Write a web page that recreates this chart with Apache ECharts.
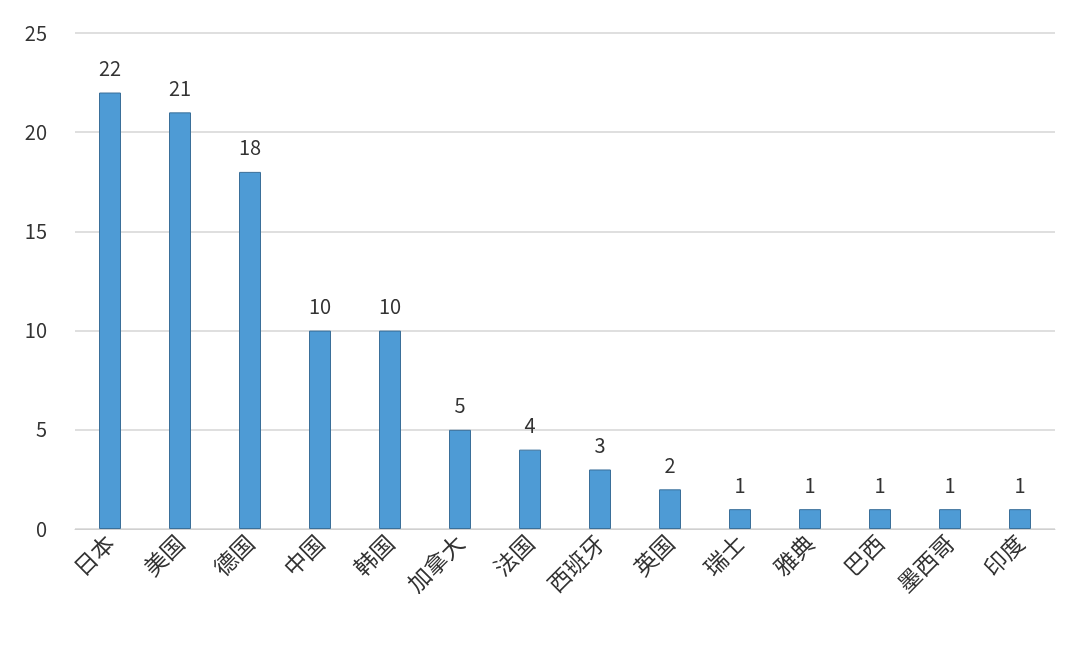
<!DOCTYPE html>
<html><head><meta charset="utf-8">
<script src="https://cdn.jsdelivr.net/npm/echarts@6/dist/echarts.min.js"></script>
<style>html,body{margin:0;padding:0;background:#fff}#c{width:1080px;height:650px}</style>
</head><body><div id="c"></div>
<script>
const categories = ["日本","美国","德国","中国","韩国","加拿大","法国","西班牙","英国","瑞士","雅典","巴西","墨西哥","印度"];
const values = [22,21,18,10,10,5,4,3,2,1,1,1,1,1];
const yTicks = [0,5,10,15,20,25];
const chart = echarts.init(document.getElementById('c'));
const font = '"Noto Sans CJK SC","Noto Sans",sans-serif';
chart.setOption({
  animation:false,
  grid:{left:75,right:25,top:33,bottom:121},
  xAxis:{type:'category',data:categories,
    axisLine:{lineStyle:{color:'#d0d0d0'}},axisTick:{show:false},
    axisLabel:{rotate:45,color:'#333',fontSize:23,fontFamily:font,interval:0,margin:10}},
  yAxis:{type:'value',min:yTicks[0],max:yTicks[yTicks.length-1],interval:5,
    axisLine:{show:false},axisTick:{show:false},
    splitLine:{lineStyle:{color:'#d4d4d4',width:1.5}},
    axisLabel:{color:'#333',fontSize:20,fontFamily:font,margin:28}},
  series:[{type:'bar',data:values,barWidth:22,
    itemStyle:{color:'#4e9bd5',borderColor:'#3a6f99',borderWidth:1},
    label:{show:true,position:'top',distance:14,color:'#333',fontSize:20,fontFamily:font}}]
});
</script></body></html>
